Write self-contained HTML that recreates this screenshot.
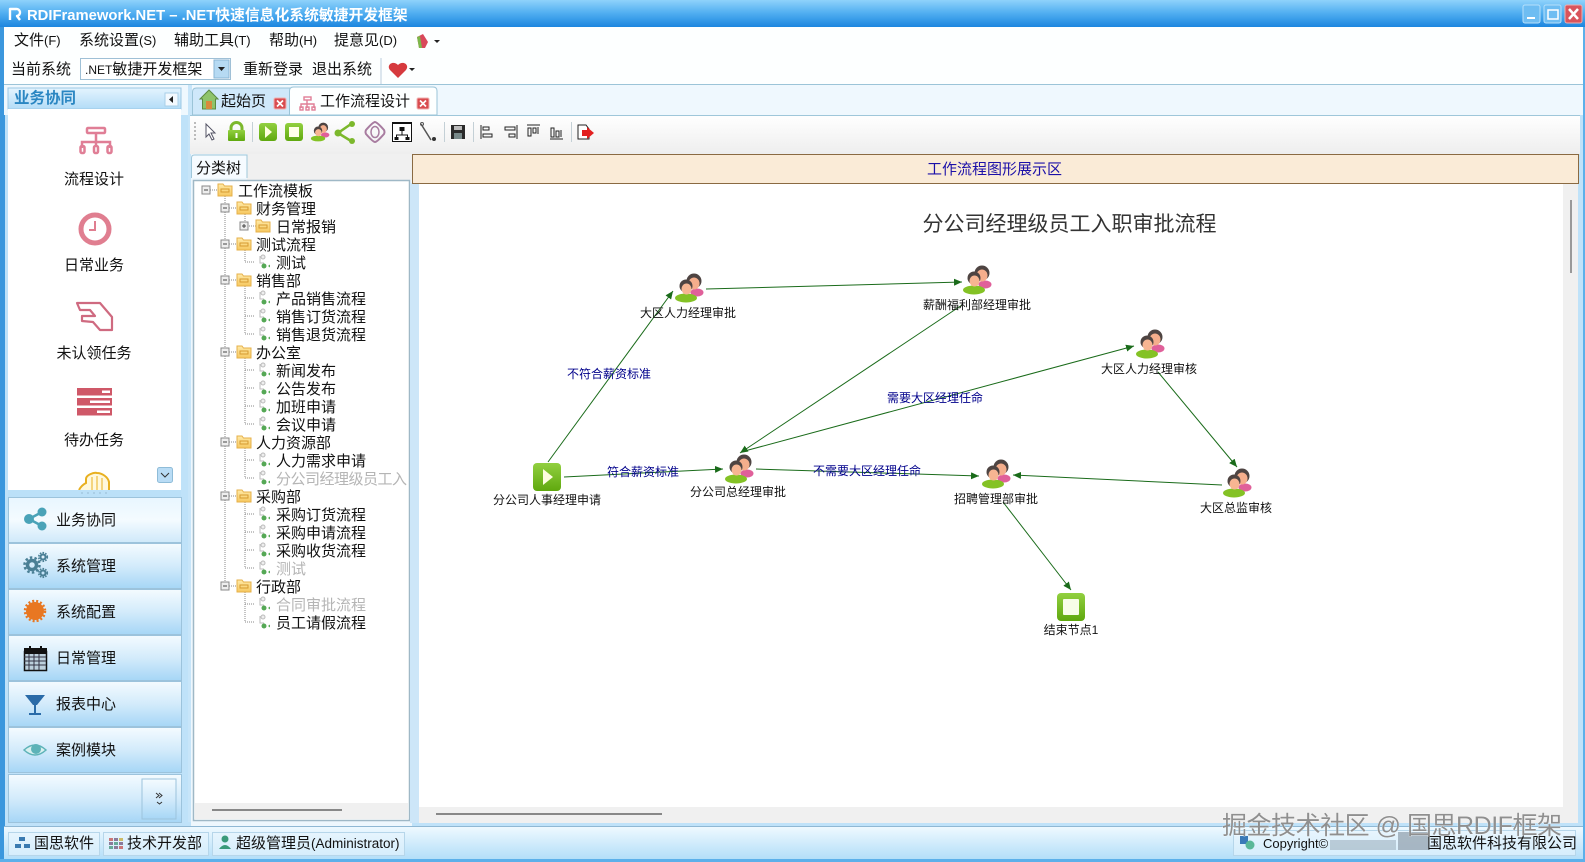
<!DOCTYPE html>
<html><head><meta charset="utf-8"><style>
html,body{margin:0;padding:0;background:#fff;width:1585px;height:862px;overflow:hidden}
svg{display:block}
text{font-family:"WenQuanYi Zen Hei","Liberation Sans","Noto Sans CJK SC",sans-serif;font-size:15px;fill:#111}
text:not(.n):not(.e):not([text-anchor]){transform:translateX(-1px)}
.lat{font-family:"Liberation Sans","WenQuanYi Zen Hei","Noto Sans CJK SC",sans-serif}
.n{font-size:12px;text-anchor:middle;fill:#111}
.e{font-size:12px;text-anchor:middle;fill:#00008b}
.g{fill:#b5b5b5}
.dot{stroke:#888;stroke-width:1;stroke-dasharray:1 1;fill:none}
.edge{stroke:#1a6b1a;stroke-width:1;fill:none;marker-end:url(#ah)}
</style></head><body>
<svg width="1585" height="862" viewBox="0 0 1585 862" xmlns="http://www.w3.org/2000/svg">
<defs>
<linearGradient id="tb" x1="0" y1="0" x2="0" y2="1"><stop offset="0" stop-color="#8fd2fb"/><stop offset=".5" stop-color="#4fadf0"/><stop offset="1" stop-color="#1c86df"/></linearGradient>
<linearGradient id="btn" x1="0" y1="0" x2="0" y2="1"><stop offset="0" stop-color="#f4fbff"/><stop offset=".5" stop-color="#d3ebfb"/><stop offset="1" stop-color="#a6d6f6"/></linearGradient>
<linearGradient id="btn0" x1="0" y1="0" x2="0" y2="1"><stop offset="0" stop-color="#e8f6ff"/><stop offset=".5" stop-color="#f4fbff"/><stop offset="1" stop-color="#cfe9fa"/></linearGradient>
<linearGradient id="st" x1="0" y1="0" x2="0" y2="1"><stop offset="0" stop-color="#eef9ff"/><stop offset="1" stop-color="#aedcf8"/></linearGradient>
<linearGradient id="hd" x1="0" y1="0" x2="0" y2="1"><stop offset="0" stop-color="#e4f4fe"/><stop offset="1" stop-color="#b3dcf7"/></linearGradient>
<linearGradient id="tool" x1="0" y1="0" x2="0" y2="1"><stop offset="0" stop-color="#fff"/><stop offset="1" stop-color="#eeeeee"/></linearGradient>
<linearGradient id="gr" x1="0" y1="0" x2="0" y2="1"><stop offset="0" stop-color="#92d040"/><stop offset="1" stop-color="#5fa80e"/></linearGradient>
<linearGradient id="fold" x1="0" y1="0" x2="0" y2="1"><stop offset="0" stop-color="#ffeaa8"/><stop offset="1" stop-color="#f6c860"/></linearGradient>
<marker id="ah" markerWidth="9" markerHeight="8" refX="8" refY="3.5" orient="auto" markerUnits="userSpaceOnUse"><path d="M0 0L8 3.5L0 7z" fill="#1a6b1a"/></marker>
<g id="person">
<ellipse cx="8" cy="4.500" rx="6.500" ry="4" fill="#e0609a"/>
<circle cx="5" cy="-7" r="7.500" fill="#4e4442"/><ellipse cx="5" cy="-4.500" rx="5.500" ry="6" fill="#f5ae8c"/>
<ellipse cx="-3" cy="10" rx="11" ry="4.500" fill="#84c225"/>
<circle cx="-3" cy="-2" r="6.500" fill="#4e4442"/><ellipse cx="-2.500" cy="1" rx="5" ry="5.500" fill="#f7b592"/>
</g>
<g id="folder"><path d="M-7 -6h5l1.500 2h7.500v10h-14z" fill="url(#fold)" stroke="#e6b04a"/><rect x="-4" y="-1" width="8" height="3" fill="none" stroke="#d69a30"/></g>
<g id="leaf"><path d="M-4 -6v7h4" fill="none" stroke="#bbb"/><circle cx="-1" cy="-5" r="2" fill="#eee" stroke="#bbb"/><circle cx="0" cy="4" r="2.500" fill="#55a855"/><path d="M4 4l2 -1.500v3z" fill="#55a855"/></g>
<g id="mbox"><rect x="-4" y="-4" width="8" height="8" fill="#eee" stroke="#888"/><path d="M-2 0h4" stroke="#444"/></g>
<g id="pbox"><rect x="-4" y="-4" width="8" height="8" fill="#eee" stroke="#888"/><path d="M-2 0h4M0 -2v4" stroke="#444"/></g>
</defs>

<!-- window frame -->
<rect width="1585" height="862" fill="#bfe2f9"/>
<rect x="0" y="0" width="5" height="862" fill="#3b97dd"/>
<rect x="1583" y="0" width="2" height="862" fill="#5cb0ea"/>
<rect x="0" y="0" width="1585" height="27" fill="url(#tb)"/>
<rect x="4" y="27" width="1579" height="57" fill="#fdffff"/>
<path d="M4 84.500H1583" stroke="#9bc4d8"/>
<rect x="4" y="85" width="1579" height="30" fill="#eff8fe"/>
<rect x="188" y="85" width="4" height="737" fill="#c7e5f9"/>

<!-- title -->
<text x="28" y="20" class="lat" style="font-weight:bold;font-size:14.800px;fill:#fff">RDIFramework.NET – .NET快速信息化系统敏捷开发框架</text>
<path d="M10 20V9h6a3.500 3.500 0 0 1 1 7l3 4" fill="none" stroke="#fff" stroke-width="2.400" stroke-linejoin="round"/>
<rect x="1523" y="5" width="17" height="18" rx="2" fill="#6ebdf2" stroke="#b6e0fb"/><rect x="1527" y="17" width="8" height="2" fill="#fff"/>
<rect x="1544" y="5" width="17" height="18" rx="2" fill="#6ebdf2" stroke="#b6e0fb"/><rect x="1548" y="10" width="10" height="9" fill="none" stroke="#fff" stroke-width="1.500"/>
<rect x="1565" y="5" width="17" height="18" rx="2" fill="#d9545c" stroke="#eeb0b0"/><path d="M1569 9l9 10M1578 9l-9 10" stroke="#fff" stroke-width="2.500"/>

<!-- menu -->
<text x="15" y="45">文件<tspan class="lat" font-size="13">(F)</tspan></text>
<text x="80" y="45">系统设置<tspan class="lat" font-size="13">(S)</tspan></text>
<text x="175" y="45">辅助工具<tspan class="lat" font-size="13">(T)</tspan></text>
<text x="270" y="45">帮助<tspan class="lat" font-size="13">(H)</tspan></text>
<text x="335" y="45">提意见<tspan class="lat" font-size="13">(D)</tspan></text>
<path d="M417 37l6 -3 5 8 -3 6h-6z" fill="#d9485a"/><path d="M417 37l3 -1 2 12h-3z" fill="#7cb84a"/>
<path d="M434 40h6l-3 3z" fill="#222"/>
<text x="12" y="74">当前系统</text>
<rect x="80.500" y="58.500" width="150" height="21" fill="#fff" stroke="#9fc0d6"/>
<rect x="214" y="60" width="15" height="18" fill="#b6daf3" stroke="#8ab6d4"/><path d="M218 67h7l-3.500 4z" fill="#222"/>
<text x="86" y="74"><tspan class="lat" font-size="12">.NET</tspan>敏捷开发框架</text>
<text x="244" y="74">重新登录</text>
<text x="313" y="74">退出系统</text>
<path d="M381 58v26" stroke="#bcd"/>
<path d="M398 78l-8 -8c-4 -5 3 -10 8 -5c5 -5 12 0 8 5z" fill="#d63a3e"/>
<path d="M409 68h6l-3 3z" fill="#222"/>

<!-- left sidebar -->
<rect x="8" y="88" width="173" height="21" fill="url(#hd)" stroke="#9cc8e4"/>
<text x="15" y="103" style="font-weight:bold;font-size:15.500px;fill:#2a86c2">业务协同</text>
<rect x="165" y="93" width="13" height="13" fill="#f3f9fe" stroke="#a8cfe8"/><path d="M173 96v7l-4 -3.500z" fill="#222"/>
<rect x="8" y="109" width="173" height="381" fill="#fff"/>
<!-- icon 1 -->
<g fill="none" stroke="#e07e96" stroke-width="2.500"><rect x="87" y="128" width="18" height="5" rx="1"/><path d="M96 133v8M82 148v-6h28v6M96 141v6"/><rect x="80.500" y="146" width="4" height="7" rx="1.500"/><rect x="94" y="146" width="4" height="7" rx="1.500"/><rect x="107.500" y="146" width="4" height="7" rx="1.500"/></g>
<text x="94" y="184" text-anchor="middle">流程设计</text>
<!-- clock -->
<circle cx="95" cy="229" r="14" fill="#fff" stroke="#e07e90" stroke-width="5"/><path d="M95 221v9h-6" fill="none" stroke="#e07e90" stroke-width="2"/>
<text x="94" y="270" text-anchor="middle">日常业务</text>
<!-- hand -->
<path d="M77 303H100L112 317V330H100L93 322L82 321V316H95L90 310H80z" fill="#fff" stroke="#cf6a80" stroke-width="2.200" stroke-linejoin="round"/>
<text x="94" y="358" text-anchor="middle">未认领任务</text>
<!-- tasks -->
<g fill="#cf5868"><rect x="77" y="388" width="35" height="7.500"/><rect x="77" y="398" width="35" height="7.500"/><rect x="77" y="408" width="35" height="7.500"/></g>
<g fill="#fff"><rect x="102" y="390.500" width="8" height="2.500"/><rect x="90" y="400.500" width="20" height="2.500"/><rect x="97" y="410.500" width="13" height="2.500"/></g>
<text x="94" y="445" text-anchor="middle">待办任务</text>
<!-- partial -->
<path d="M79 490c2 -4 5 -6 7 -7v-4c0 -4 8 -7 11 -6c5 0 11 4 12 9v8" fill="#fff8dc" stroke="#e8b020" stroke-width="2"/><path d="M92 477v13M97 476v14M102 478v12" stroke="#e8b020"/>
<rect x="157.500" y="467.500" width="15" height="15" rx="2" fill="#b9dcf5" stroke="#8fbcd8"/><path d="M161 473l4 4 4 -4" fill="none" stroke="#333"/>
<rect x="8" y="490" width="173" height="7" fill="#bbe0f8"/>
<path d="M81 493h2m4 0h2m4 0h2m4 0h2m4 0h2" stroke="#99bcd4"/>

<g stroke="#9cc3dc">
<rect x="8.500" y="497.500" width="173" height="45" fill="url(#btn0)"/>
<rect x="8.500" y="543.500" width="173" height="45" fill="url(#btn)"/>
<rect x="8.500" y="589.500" width="173" height="45" fill="url(#btn)"/>
<rect x="8.500" y="635.500" width="173" height="45" fill="url(#btn)"/>
<rect x="8.500" y="681.500" width="173" height="45" fill="url(#btn)"/>
<rect x="8.500" y="727.500" width="173" height="45" fill="url(#btn)"/>
<rect x="8.500" y="774.500" width="173" height="48" fill="url(#btn)"/>
<rect x="142" y="779" width="34" height="40" fill="url(#btn)"/>
</g>
<!-- share -->
<g fill="#4aa3b8"><circle cx="29" cy="519" r="5"/><circle cx="42" cy="512" r="4.500"/><circle cx="42" cy="526" r="4.500"/><path d="M29 519L42 512M29 519L42 526" stroke="#4aa3b8" stroke-width="2.500"/></g>
<text x="57" y="525">业务协同</text>
<!-- gears -->
<g fill="none" stroke="#4a7f95"><circle cx="32" cy="565" r="4.500" stroke-width="3.500"/><circle cx="32" cy="565" r="7.500" stroke-width="2.500" stroke-dasharray="2.500 2.200"/><circle cx="43" cy="557" r="2.500" stroke-width="2"/><circle cx="43" cy="557" r="4.300" stroke-width="1.600" stroke-dasharray="1.600 1.200"/><circle cx="43" cy="573" r="2.500" stroke-width="2"/><circle cx="43" cy="573" r="4.300" stroke-width="1.600" stroke-dasharray="1.600 1.200"/></g>
<text x="57" y="571">系统管理</text>
<!-- sun -->
<circle cx="35" cy="611" r="9" fill="#e87722"/><circle cx="35" cy="611" r="10" fill="none" stroke="#e87722" stroke-width="2.500" stroke-dasharray="2 2"/>
<text x="57" y="617">系统配置</text>
<!-- calendar -->
<rect x="24.500" y="651.500" width="22" height="19" fill="#bcd0dc" stroke="#111" stroke-width="1.500"/><rect x="24" y="648" width="23" height="6" fill="#111"/><path d="M24 657h22M24 661h22M24 665h22M29 654v16M34 654v16M39 654v16" stroke="#334"/><path d="M30 646v5M41 646v5" stroke="#111" stroke-width="2"/>
<text x="57" y="663">日常管理</text>
<!-- glass -->
<path d="M25 695h20l-8 10h-4z" fill="#2a6ba8"/><rect x="34" y="704" width="2" height="10" fill="#2a6ba8"/><rect x="29" y="713" width="12" height="2" fill="#2a6ba8"/>
<text x="57" y="709">报表中心</text>
<!-- eye -->
<path d="M24 750q11 -10 22 0q-11 10 -22 0z" fill="#d7f0ef" stroke="#5db3b8" stroke-width="1.500"/><circle cx="36" cy="749" r="5" fill="#5db3b8"/>
<text x="57" y="755">案例模块</text>
<path d="M156 793l3 2.500 -3 2.500M159 793l3 2.500 -3 2.500M157 802l2.500 2 2.500 -2" fill="none" stroke="#333"/>

<!-- tabs -->
<path d="M192.500 115V92q0 -4 4 -4H290V115z" fill="#cfe8fa" stroke="#9bc4d8"/>
<path d="M289.500 115V91q0 -4 4 -4H433q4 0 4 4V115z" fill="#fdffff" stroke="#9bc4d8"/>
<path d="M209 90l-9 9h2.500v10h13v-10h2.500z" fill="#8fc46a" stroke="#5c8a40"/><rect x="206" y="101" width="6" height="8" fill="#d98a3c"/>
<text x="222" y="106">起始页</text>
<g><rect x="274" y="98" width="12" height="11" rx="1.500" fill="#d94c50" stroke="#f0b0b0"/><path d="M277 100.500l6 6M283 100.500l-6 6" stroke="#fff" stroke-width="1.700"/></g>
<g fill="none" stroke="#e07e96" stroke-width="1.400"><rect x="304" y="97" width="7" height="3"/><path d="M307 100v3M301 108v-4h13v4M307 103v5"/><rect x="300" y="107" width="3" height="3"/><rect x="306" y="107" width="3" height="3"/><rect x="312" y="107" width="3" height="3"/></g>
<text x="321" y="106">工作流程设计</text>
<g><rect x="417" y="98" width="12" height="11" rx="1.500" fill="#d94c50" stroke="#f0b0b0"/><path d="M420 100.500l6 6M426 100.500l-6 6" stroke="#fff" stroke-width="1.700"/></g>

<!-- toolbar -->
<rect x="190" y="115.500" width="1390" height="38.500" fill="url(#tool)"/>
<path d="M190 115.500H1580" stroke="#9fc7da"/>
<path d="M195 122v20" stroke="#bbb" stroke-dasharray="2 2" stroke-width="2"/>
<path d="M206 124v13l3 -3 3 6 2 -1 -3 -6h4z" fill="#fff" stroke="#556"/>
<path d="M231 131v-3a5.500 5.500 0 0 1 11 0v3" fill="none" stroke="#7cb82c" stroke-width="3"/><rect x="228" y="130" width="17" height="11" rx="1" fill="url(#gr)"/><rect x="235.500" y="133" width="2" height="5" fill="#fff"/>
<rect x="259" y="123" width="18" height="18" rx="3" fill="url(#gr)"/><path d="M265 126v12l7 -6z" fill="#ffffe0"/>
<rect x="285" y="123" width="18" height="18" rx="3" fill="url(#gr)"/><rect x="289" y="127" width="10" height="10" fill="#ffffe8"/>
<use href="#person" transform="translate(320,132) scale(.65)"/>
<path d="M338 133L351 124M338 133L351 141" stroke="#7cb82c" stroke-width="2.500"/><circle cx="338" cy="133" r="3.500" fill="#7cb82c"/><circle cx="352" cy="124" r="3" fill="#7cb82c"/><circle cx="352" cy="141" r="3" fill="#7cb82c"/>
<path d="M375 122q2 0 9 8q1 2 0 4q-7 8 -9 8q-2 0 -9 -8q-1 -2 0 -4q7 -8 9 -8z" fill="none" stroke="#a87ca0" stroke-width="2"/><ellipse cx="375" cy="132" rx="4" ry="5.500" fill="none" stroke="#a87ca0" stroke-width="1.500"/>
<rect x="392.500" y="122.500" width="19" height="19" fill="#fff" stroke="#111"/><rect x="392" y="122" width="20" height="2" fill="#111"/><rect x="399.500" y="127" width="5" height="4" fill="#111"/><path d="M402 131v4M396.500 138v-3h11v3" stroke="#111" fill="none"/><rect x="394.500" y="137" width="4" height="3" fill="#111"/><rect x="405.500" y="137" width="4" height="3" fill="#111"/>
<path d="M421 124l10 16" stroke="#555" stroke-width="1.500"/><circle cx="422" cy="124" r="1.500" fill="none" stroke="#555"/><circle cx="434" cy="139" r="2" fill="#333"/>
<rect x="451" y="125" width="14" height="14" fill="#2a2a2a"/><rect x="454" y="126" width="8" height="4" fill="#bbb"/><rect x="454" y="133" width="8" height="6" fill="#788"/>
<g stroke="#222" fill="none"><path d="M481 125v14M483 127h6v3h-6zM483 134h9v3h-9z"/><path d="M517 125v14M505 127h10v3h-10zM509 134h6v3h-6z"/><path d="M527 125h13M528 128h3v8h-3zM533 128h3v5h-3zM538 127v7"/><path d="M550 139h13M551 128h3v9h-3zM556 131h3v6h-3zM561 130v7"/></g>
<path d="M578 125h8l3 4v10h-11z" fill="#fff" stroke="#222"/><path d="M582 130h5v-3l7 6 -7 6v-3h-5z" fill="#e22020"/>
<g stroke="#c4d0d6"><path d="M252.500 122v20M444.500 122v20M473.500 122v20M571.500 122v20"/></g>

<!-- tree panel -->
<rect x="191" y="154" width="221" height="672" fill="#eef7fd"/>
<rect x="247" y="154" width="165" height="26" fill="#f0f0f0"/>
<path d="M191.500 178V158q0 -3 3 -3H247V178" fill="#f6fbff" stroke="#9fc7da"/>
<text x="197" y="173">分类树</text>
<rect x="193.500" y="180.500" width="216" height="640" fill="#fff" stroke="#9fb8c6" stroke-width="1.500"/>
<rect x="195" y="803" width="213" height="16" fill="#f0f0f0"/>
<rect x="212" y="809" width="130" height="2" fill="#888"/>
<rect x="410" y="183" width="9" height="640" fill="#cde6f8"/>

<!-- tree connectors -->
<path class="dot" d="M206 190h13M225 196V586M225 208h13M225 244h13M225 280h13M225 352h13M225 442h13M225 496h13M225 586h13M245 226h13M245 262h9M245 214V226M245 250V262M245 286V334M245 298h9M245 316h9M245 334h9M245 358V424M245 370h9M245 388h9M245 406h9M245 424h9M245 448V478M245 460h9M245 478h9M245 502V568M245 514h9M245 532h9M245 550h9M245 568h9M245 592V622M245 604h9M245 622h9"/>
<use href="#mbox" x="206" y="190"/><use href="#folder" x="225" y="190"/><text x="239" y="196">工作流模板</text>
<use href="#mbox" x="225" y="208"/><use href="#folder" x="244" y="208"/><text x="257" y="214">财务管理</text>
<use href="#pbox" x="244" y="226"/><use href="#folder" x="263" y="226"/><text x="277" y="232">日常报销</text>
<use href="#mbox" x="225" y="244"/><use href="#folder" x="244" y="244"/><text x="257" y="250">测试流程</text>
<use href="#leaf" x="264" y="262"/><text x="277" y="268">测试</text>
<use href="#mbox" x="225" y="280"/><use href="#folder" x="244" y="280"/><text x="257" y="286">销售部</text>
<use href="#leaf" x="264" y="298"/><text x="277" y="304">产品销售流程</text>
<use href="#leaf" x="264" y="316"/><text x="277" y="322">销售订货流程</text>
<use href="#leaf" x="264" y="334"/><text x="277" y="340">销售退货流程</text>
<use href="#mbox" x="225" y="352"/><use href="#folder" x="244" y="352"/><text x="257" y="358">办公室</text>
<use href="#leaf" x="264" y="370"/><text x="277" y="376">新闻发布</text>
<use href="#leaf" x="264" y="388"/><text x="277" y="394">公告发布</text>
<use href="#leaf" x="264" y="406"/><text x="277" y="412">加班申请</text>
<use href="#leaf" x="264" y="424"/><text x="277" y="430">会议申请</text>
<use href="#mbox" x="225" y="442"/><use href="#folder" x="244" y="442"/><text x="257" y="448">人力资源部</text>
<use href="#leaf" x="264" y="460"/><text x="277" y="466">人力需求申请</text>
<use href="#leaf" x="264" y="478"/><text x="277" y="484" class="g" textLength="131" lengthAdjust="spacing">分公司经理级员工入</text>
<use href="#mbox" x="225" y="496"/><use href="#folder" x="244" y="496"/><text x="257" y="502">采购部</text>
<use href="#leaf" x="264" y="514"/><text x="277" y="520">采购订货流程</text>
<use href="#leaf" x="264" y="532"/><text x="277" y="538">采购申请流程</text>
<use href="#leaf" x="264" y="550"/><text x="277" y="556">采购收货流程</text>
<use href="#leaf" x="264" y="568"/><text x="277" y="574" class="g">测试</text>
<use href="#mbox" x="225" y="586"/><use href="#folder" x="244" y="586"/><text x="257" y="592">行政部</text>
<use href="#leaf" x="264" y="604"/><text x="277" y="610" class="g">合同审批流程</text>
<use href="#leaf" x="264" y="622"/><text x="277" y="628">员工请假流程</text>

<!-- banner + canvas -->
<rect x="419" y="183" width="1144" height="624" fill="#fff"/>
<rect x="1563" y="183" width="15" height="640" fill="#f0f0f0"/>
<rect x="419" y="807" width="1159" height="16" fill="#f0f0f0"/>
<rect x="1570" y="200" width="2" height="73" fill="#999"/>
<rect x="436" y="813" width="226" height="2" fill="#888"/>
<rect x="412.500" y="154.500" width="1166" height="29" fill="#faebd7" stroke="#8a6a42"/>
<text x="928" y="174" style="fill:#1c10a8">工作流程图形展示区</text>
<text x="923.500" y="231" style="font-size:21px;fill:#333">分公司经理级员工入职审批流程</text>

<!-- edges -->
<path class="edge" d="M548 462L673 291"/>
<path class="edge" d="M706 289L962 282"/>
<path class="edge" d="M962 305L740 453"/>
<path class="edge" d="M741 452L1134 346"/>
<path class="edge" d="M564 477L723 469"/>
<path class="edge" d="M756 469L979 476"/>
<path class="edge" d="M1158 372L1237 467"/>
<path class="edge" d="M1222 485L1013 475"/>
<path class="edge" d="M1003 502L1071 590"/>

<!-- edge labels -->
<text class="e" x="609" y="378">不符合薪资标准</text>
<text class="e" x="643" y="476">符合薪资标准</text>
<text class="e" x="867" y="475">不需要大区经理任命</text>
<text class="e" x="935" y="402">需要大区经理任命</text>

<!-- nodes -->
<rect x="533" y="463" width="28" height="28" rx="4" fill="url(#gr)"/><path d="M543 469v16l10 -8z" fill="#fdfde0"/>
<text class="n" x="547" y="504">分公司人事经理申请</text>
<use href="#person" x="689" y="288"/><text class="n" x="688" y="317">大区人力经理审批</text>
<use href="#person" x="977" y="280"/><text class="n" x="977" y="309">薪酬福利部经理审批</text>
<use href="#person" x="739" y="469"/><text class="n" x="738" y="496">分公司总经理审批</text>
<use href="#person" x="996" y="474"/><text class="n" x="996" y="503">招聘管理部审批</text>
<use href="#person" x="1150" y="344"/><text class="n" x="1149" y="373">大区人力经理审核</text>
<use href="#person" x="1237" y="483"/><text class="n" x="1236" y="512">大区总监审核</text>
<rect x="1057" y="593" width="28" height="28" rx="4" fill="url(#gr)"/><rect x="1063" y="599" width="16" height="16" rx="1" fill="#f8fde8"/>
<text class="n" x="1071" y="634">结束节点<tspan class="lat">1</tspan></text>

<!-- status bar -->
<rect x="4" y="827" width="1579" height="35" fill="url(#st)"/>
<path d="M4 826.500H1583" stroke="#8fb8d4"/>
<rect x="0" y="859" width="1585" height="3" fill="#5cb0ea"/>
<g fill="#e8f5fd" fill-opacity=".6" stroke="#b6d6ea">
<rect x="8.500" y="832.500" width="91" height="23"/><rect x="103.500" y="832.500" width="105" height="23"/><rect x="212.500" y="832.500" width="192" height="23"/><rect x="1233.500" y="830.500" width="342" height="25"/>
</g>
<g fill="#3a7ab0"><rect x="19" y="837" width="6" height="4"/><rect x="15" y="844" width="6" height="4"/><rect x="24" y="844" width="6" height="4"/></g>
<text x="35" y="848">国思软件</text>
<g fill="#8a7a9a"><rect x="109" y="838" width="4" height="3" fill="#c77"/><rect x="114" y="838" width="4" height="3"/><rect x="119" y="838" width="4" height="3" fill="#cb6"/><rect x="109" y="842" width="4" height="3"/><rect x="114" y="842" width="4" height="3" fill="#6a9"/><rect x="119" y="842" width="4" height="3"/><rect x="109" y="846" width="4" height="3" fill="#6a9"/><rect x="114" y="846" width="4" height="3"/><rect x="119" y="846" width="4" height="3" fill="#c77"/></g>
<text x="128" y="848">技术开发部</text>
<circle cx="225" cy="839" r="3.500" fill="#3a9a7a"/><path d="M219 849q6 -8 12 0z" fill="#3a9a7a"/>
<text x="237" y="848">超级管理员<tspan class="lat" font-size="13.500">(Administrator)</tspan></text>
<rect x="1240" y="836" width="8" height="8" fill="#3a7ab8"/><circle cx="1250" cy="845" r="4.500" fill="#5ab898"/>
<text x="1264" y="848" class="lat" style="font-size:13px">Copyright©</text>
<rect x="1330" y="840" width="66" height="10" fill="#a8bac8" opacity=".7"/><rect x="1398" y="832" width="30" height="18" fill="#98a8b4" opacity=".8"/>
<text x="1428" y="848">国思软件科技有限公司</text>
<!-- watermark -->
<text x="1223" y="834" class="lat" textLength="340" lengthAdjust="spacing" style="font-size:25px;fill:#8f8f8f;stroke:#fff;stroke-width:.4;paint-order:stroke">掘金技术社区 @ 国思RDIF框架</text>
</svg>
</body></html>
